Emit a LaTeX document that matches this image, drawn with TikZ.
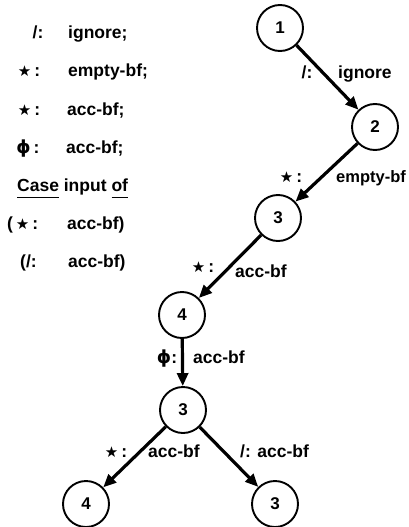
\documentclass[tikz,border=0pt]{standalone}
\usepackage{fontspec}
\setmainfont{Liberation Sans}
\usetikzlibrary{arrows.meta}
\newfontfamily\symfont{DejaVu Sans}
\begin{document}
\begin{tikzpicture}[x=1pt,y=-1pt,
  state/.style={circle,draw,line width=1.9pt,minimum size=46pt,inner sep=0pt,font=\fontsize{17}{17}\selectfont\bfseries},
  edge/.style={line width=3.2pt,-{Triangle[length=13pt,width=11pt]}},
  lbl/.style={inner sep=0pt,font=\fontsize{17.5}{17.5}\selectfont\bfseries},
]
\useasboundingbox (0,0) rectangle (408,527);
\newcommand{\st}{{\symfont\fontsize{15}{15}\selectfont ★}}
\newcommand{\ph}{{\symfont\fontsize{18}{18}\selectfont ϕ}}
\newcommand{\myul}[1]{\setbox0\hbox{#1}\rlap{\rule[-7pt]{\wd0}{1.4pt}}\box0\relax}
% left column
\node[lbl,anchor=base] (l1a) at (38,38) {/:};
\node[lbl,anchor=base west] (l1b) at (68,38) {ignore;};
\node[lbl,anchor=base] (l2a) at (29,77) {\st\,:};
\node[lbl,anchor=base west] (l2b) at (68,77) {empty-bf;};
\node[lbl,anchor=base] (l3a) at (29,115) {\st\,:};
\node[lbl,anchor=base west] (l3b) at (67,115) {acc-bf;};
\node[lbl,anchor=base] (l4a) at (28,153) {\ph\,:};
\node[lbl,anchor=base west] (l4b) at (66,153) {acc-bf;};
\node[lbl,anchor=base west] (l5) at (17,191) {\myul{Case} input \myul{of}};
\node[lbl,anchor=base west] (l6a) at (7,229) {(\,\st\,:};
\node[lbl,anchor=base west] (l6b) at (67,229) {acc-bf)};
\node[lbl,anchor=base west] (l7a) at (20,267) {(/:};
\node[lbl,anchor=base west] (l7b) at (68,267) {acc-bf)};
% nodes
\node[state] (n1) at (280,28) {1};
\node[state] (n2) at (375,127) {2};
\node[state] (n3) at (278,218) {3};
\node[state] (n4) at (182,315) {4};
\node[state] (n5) at (183,410) {3};
\node[state] (n6) at (86,504) {4};
\node[state] (n7) at (275,504) {3};
\draw[edge] (n1) -- (n2);
\draw[edge] (n2) -- (n3);
\draw[edge] (n3) -- (n4);
\draw[edge] (n4) -- (n5);
\draw[edge] (n5) -- (n6);
\draw[edge] (n5) -- (n7);
% edge labels
\node[lbl,anchor=base] (e1a) at (307,78) {/:};
\node[lbl,anchor=base west] (e1b) at (338,78) {ignore};
\node[lbl,anchor=base] (e2a) at (291,182) {\st\,:};
\node[lbl,anchor=base west,font=\fontsize{16.5}{16.5}\selectfont\bfseries] (e2b) at (336,182) {empty-bf};
\node[lbl,anchor=base] (e3a) at (203,272) {\st\,:};
\node[lbl,anchor=base west] (e3b) at (235,277) {acc-bf};
\node[lbl,anchor=base] (e4a) at (167,363) {\ph:};
\node[lbl,anchor=base west] (e4b) at (193,363) {acc-bf};
\node[lbl,anchor=base] (e5a) at (116,457) {\st\,:};
\node[lbl,anchor=base west] (e5b) at (148,457) {acc-bf};
\node[lbl,anchor=base west] (e6) at (240,457) {/: acc-bf};
\end{tikzpicture}
\end{document}
